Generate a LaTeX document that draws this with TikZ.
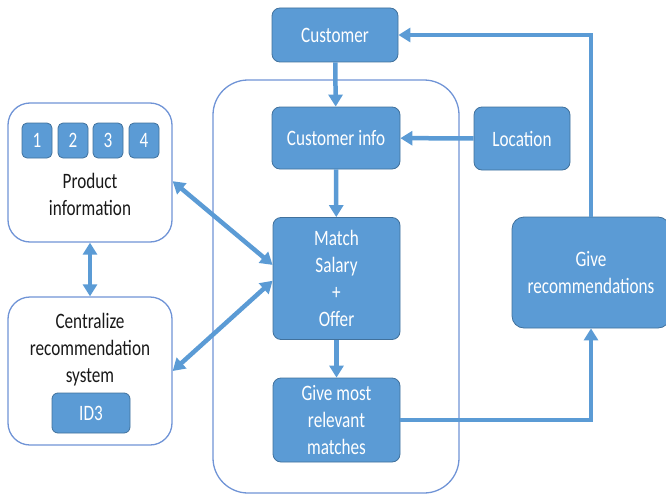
\documentclass[tikz,border=0pt]{standalone}
\usepackage{fontspec}
\setmainfont{Carlito}[FakeStretch=0.78]
\usetikzlibrary{arrows.meta}
\definecolor{boxblue}{RGB}{91,155,213}
\definecolor{boxedge}{RGB}{65,113,156}
\definecolor{frameblue}{RGB}{112,148,214}
\begin{document}
\begin{tikzpicture}[x=1pt,y=-1pt,
  bluebox/.style={draw=boxedge,line width=0.8pt,fill=boxblue,text=white,rounded corners=8pt,
    align=center,inner sep=0pt,font=\fontsize{22}{27}\selectfont},
  framebox/.style={draw=frameblue,line width=1.3pt,rounded corners=22pt,inner sep=0pt},
  plaintext/.style={align=center,inner sep=0pt,text=black!90,font=\fontsize{22}{27}\selectfont},
  link/.style={draw=boxblue,line width=4.5pt,-{Triangle[width=14pt,length=12pt]}},
  twoway/.style={link,{Triangle[width=14pt,length=12pt]}-{Triangle[width=14pt,length=12pt]}}]
\clip (0,0) rectangle (666,495);

\node (frame) at (336,286.5) [framebox,minimum width=246pt,minimum height=413pt,rounded corners=35pt] {};

\node (cust) at (335,35) [bluebox,minimum width=126pt,minimum height=54pt] {Customer};
\node (info) at (336,138) [bluebox,minimum width=128pt,minimum height=62pt] {Customer info};
\node (loc) at (522,138.5) [bluebox,minimum width=96pt,minimum height=63pt] {Location};
\node (match) at (336.5,278.5) [bluebox,minimum width=127pt,minimum height=122pt] {Match\\Salary\\+\\Offer};
\node (give) at (336.5,420) [bluebox,minimum width=127pt,minimum height=84pt] {Give most\\relevant\\matches};
\node (rec) at (591,272.5) [bluebox,minimum width=158pt,minimum height=111pt,rounded corners=12pt] {Give\\recommendations};

\node (pinfo) at (90,172.5) [framebox,minimum width=164pt,minimum height=139pt] {};
\foreach \i/\x in {1/37,2/73,3/108,4/144}
  \node (n\i) at (\x,140.5) [bluebox,minimum width=30pt,minimum height=35pt,rounded corners=5pt] {\i};
\node (ptxt) at (90,194.5) [plaintext] {Product\\information};

\node (cent) at (90,371) [framebox,minimum width=164pt,minimum height=148pt] {};
\node (ctxt) at (90,350) [plaintext] {Centralize\\recommendation\\system};
\node (id) at (91,413) [bluebox,minimum width=78pt,minimum height=40pt,rounded corners=6pt] {ID3};

\draw[link] (cust) -- (info);
\draw[link] (loc) -- (info);
\draw[link] (info) -- (match);
\draw[link] (match) -- (give);
\draw[link] (give.east) -| (rec.south);
\draw[link] (rec.north) |- (cust.east);

\draw[twoway] (pinfo.-6) -- (match.168);
\draw[twoway] (cent.east) -- (match.182);
\draw[twoway] (pinfo.south) -- (cent.north);
\end{tikzpicture}
\end{document}
